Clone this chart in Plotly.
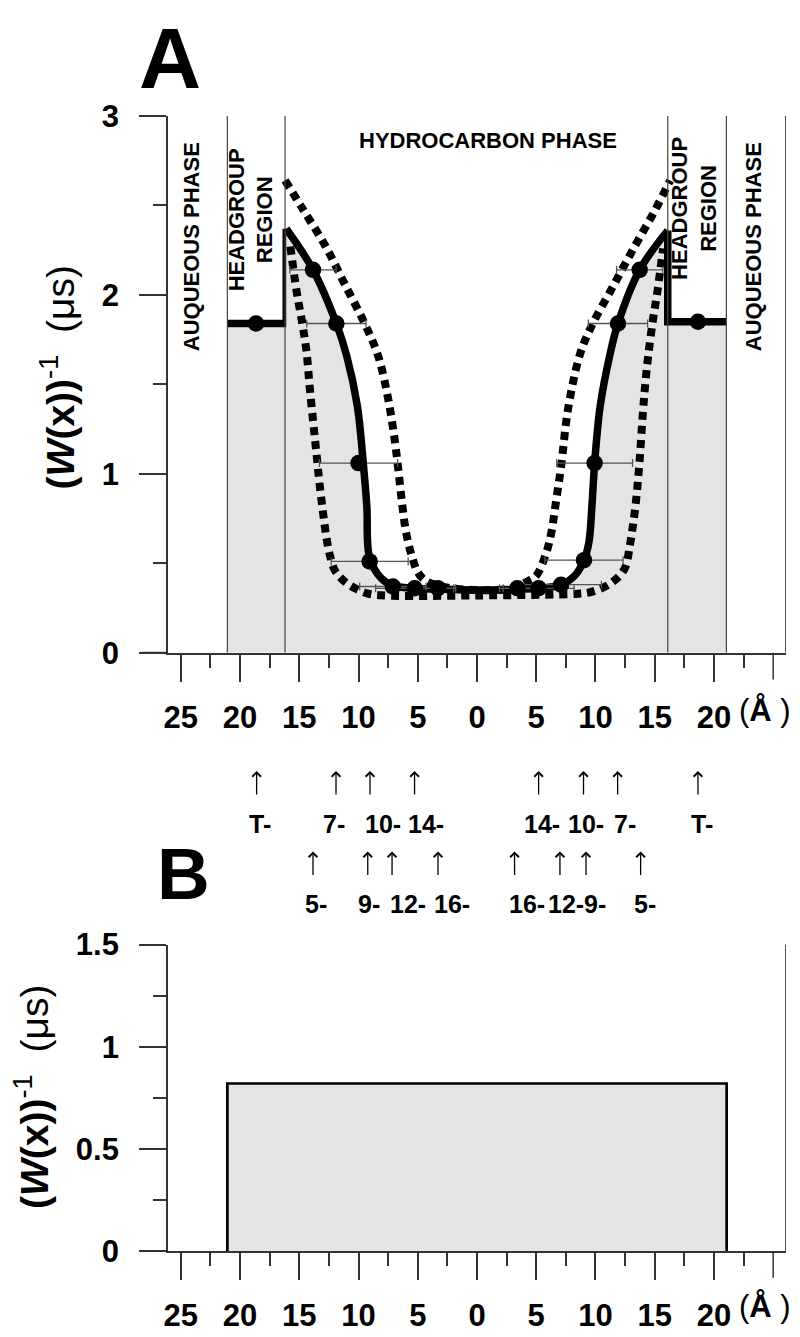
import plotly.graph_objects as go

# ---------------- data ----------------
# Panel A: solid profile, headgroup steps (x in Å, y = (W(x))^-1 in µs)
head_left_x = [-21.07, -16.1, -16.1]
head_left_y = [1.84, 1.84, 2.37]
head_right_x = [16.1, 16.1, 21.05]
head_right_y = [2.36, 1.85, 1.85]

curve_x = [-16.1, -13.84, -11.87, -11.0, -10.1, -9.6, -9.3, -9.06, -8.07, -7.1, -5.26, -3.3, 0.0,
           3.4, 5.2, 7.1, 8.24, 9.03, 9.45, 9.7, 9.93, 10.4, 11.2, 11.9, 13.73, 16.1]
curve_y = [2.37, 2.14, 1.84, 1.66, 1.38, 1.06, 0.82, 0.53, 0.415, 0.375, 0.36, 0.355, 0.35,
           0.355, 0.36, 0.38, 0.43, 0.517, 0.62, 0.82, 1.06, 1.38, 1.66, 1.84, 2.14, 2.36]

# measured points (spin-label positions) with horizontal error bars
dot_x = [-18.65, -13.84, -11.87, -10.0, -9.06, -7.1, -5.26, -3.3, 3.4, 5.2, 7.1, 9.03, 9.93, 11.9, 13.73, 18.65]
dot_y = [1.84, 2.14, 1.84, 1.06, 0.51, 0.37, 0.36, 0.36, 0.36, 0.36, 0.38, 0.517, 1.06, 1.84, 2.14, 1.85]
dot_err = [0, 1.95, 2.5, 3.3, 3.25, 2.8, 3.3, 1.5, 1.5, 3.0, 3.4, 3.3, 3.2, 2.5, 1.95, 0]

# dotted bounding profiles
inner_x = [-16.2, -14.8, -12.85, -11.16, -9.48, -8.35, -7.5, -6.95, -6.6, -6.3, -5.95, -5.5, -5.0, -4.4, -3.0, 0.0,
           3.0, 4.3, 5.0, 5.85, 6.27, 6.7, 7.1, 7.68, 8.7, 9.7, 11.5, 13.3, 15.0, 16.3]
inner_y = [2.64, 2.49, 2.28, 2.06, 1.84, 1.66, 1.42, 1.19, 1.0, 0.82, 0.66, 0.54, 0.45, 0.405, 0.37, 0.35,
           0.36, 0.40, 0.43, 0.56, 0.67, 0.86, 1.04, 1.36, 1.67, 1.83, 2.05, 2.27, 2.47, 2.64]
outer_x = [-15.75, -15.25, -14.8, -14.4, -14.1, -13.56, -13.3, -13.0, -12.7, -12.4, -12.0, -11.3, -10.3, -9.2, -7.9, 0.0,
           8.5, 9.65, 11.33, 12.46, 12.9, 13.16, 13.44, 13.73, 14.0, 14.2, 14.45, 14.85, 15.25, 15.7]
outer_y = [2.27, 2.03, 1.86, 1.69, 1.47, 1.12, 0.95, 0.785, 0.64, 0.54, 0.46, 0.405, 0.36, 0.33, 0.32, 0.32,
           0.33, 0.34, 0.39, 0.47, 0.6, 0.71, 0.86, 1.08, 1.34, 1.5, 1.66, 1.86, 2.03, 2.26]

# region boundaries (Å)
boundaries_x = [-21.07, -16.2, 16.1, 21.05]

# Panel B: uniform profile
b_edges_x = [-21.07, 21.07]
b_level = 0.82

# axis ticks
x_tickvals = [-25, -20, -15, -10, -5, 0, 5, 10, 15, 20]
x_ticktext = ["25", "20", "15", "10", "5", "0", "5", "10", "15", "20"]
x_unlabeled_major = [25]
x_minorvals = [-22.5, -17.5, -12.5, -7.5, -2.5, 2.5, 7.5, 12.5, 17.5, 22.5]
yA_tickvals = [0, 1, 2, 3]
yA_ticktext = ["0", "1", "2", "3"]
yA_minorvals = [0.5, 1.5, 2.5]
yB_tickvals = [0, 0.5, 1, 1.5]
yB_ticktext = ["0", "0.5", "1", "1.5"]
yB_minorvals = [0.25, 0.75, 1.25]

# spin-label position markers
row1_labels = ["T-", "7-", "10-", "14-", "14-", "10-", "7-", "T-"]
row1_arrow_x = [-18.6, -11.9, -9.03, -5.27, 5.2, 8.99, 11.87, 18.65]
row1_text_x = [-18.3, -12.1, -7.9, -4.3, 5.5, 9.2, 12.5, 19.0]
row2_labels = ["5-", "9-", "12-", "16-", "16-", "12-", "9-", "5-"]
row2_arrow_x = [-13.84, -9.22, -7.17, -3.29, 3.17, 7.0, 9.2, 13.81]
row2_text_x = [-13.6, -9.15, -5.8, -2.15, 4.2, 7.5, 10.0, 14.2]

# ---------------- layout helpers ----------------
W, H = 800, 1337
ML, MR, MT, MB = 160, 22, 108, 87
PW, PH = W - ML - MR, H - MT - MB


def px_x(p):
    return (p - ML) / PW


def px_y(p):
    return (H - MB - p) / PH


FONT = "Liberation Sans, Arial, sans-serif"
FILL = "#e4e4e4"
AX = "#333333"
XR = [-26.08, 26.08]
MAJ_LEN, MIN_LEN = 27, 13

fig = go.Figure()

# Panel A fills + solid profile
fig.add_trace(go.Scatter(x=head_left_x, y=head_left_y, mode="lines", fill="tozeroy", fillcolor=FILL,
                         line=dict(color="black", width=7.5), xaxis="x", yaxis="y", showlegend=False,
                         hoverinfo="skip"))
fig.add_trace(go.Scatter(x=curve_x, y=curve_y, mode="lines", fill="tozeroy", fillcolor=FILL,
                         line=dict(color="black", width=7.5, shape="spline", smoothing=1.0),
                         xaxis="x", yaxis="y", showlegend=False, hoverinfo="skip"))
fig.add_trace(go.Scatter(x=head_right_x, y=head_right_y, mode="lines", fill="tozeroy", fillcolor=FILL,
                         line=dict(color="black", width=7.5), xaxis="x", yaxis="y", showlegend=False,
                         hoverinfo="skip"))

# Dotted bounds
for xs, ys in [(inner_x, inner_y), (outer_x, outer_y)]:
    fig.add_trace(go.Scatter(x=xs, y=ys, mode="lines",
                             line=dict(color="black", width=8, dash="8px,6px", shape="spline", smoothing=1.0),
                             xaxis="x", yaxis="y", showlegend=False, hoverinfo="skip"))

# Points with error bars
fig.add_trace(go.Scatter(x=dot_x, y=dot_y, mode="markers",
                         marker=dict(color="black", size=16.5),
                         error_x=dict(type="data", array=dot_err, symmetric=True, thickness=1.3, width=4,
                                      color="#555555"),
                         xaxis="x", yaxis="y", showlegend=False, hoverinfo="skip"))

# Panel B rectangle
fig.add_trace(go.Scatter(x=[b_edges_x[0], b_edges_x[0], b_edges_x[1], b_edges_x[1]],
                         y=[0, b_level, b_level, 0], mode="lines", fill="toself", fillcolor=FILL,
                         line=dict(color="black", width=2.7), xaxis="x2", yaxis="y2", showlegend=False,
                         hoverinfo="skip"))

tickfont = dict(family=FONT, size=31, color="black", weight="bold")


def xaxis_def(anchor):
    return dict(domain=[0, 1], range=XR, anchor=anchor, showline=True, linecolor=AX, linewidth=1.7,
                ticks="outside", ticklen=MAJ_LEN, tickwidth=1.5, tickcolor=AX,
                tickmode="array", tickvals=x_tickvals, ticktext=x_ticktext,
                minor=dict(tickmode="array", tickvals=x_minorvals, ticklen=MIN_LEN, tickwidth=1.5,
                           tickcolor=AX, ticks="outside"),
                showgrid=False, zeroline=False, tickfont=tickfont, ticklabelstandoff=9, fixedrange=True)


def yaxis_def(domain, rng, tv, tt, mv, anchor):
    return dict(domain=domain, range=rng, anchor=anchor, showline=True, linecolor=AX, linewidth=1.7,
                ticks="outside", ticklen=MAJ_LEN, tickwidth=1.5, tickcolor=AX,
                tickmode="array", tickvals=tv, ticktext=tt,
                minor=dict(tickmode="array", tickvals=mv, ticklen=MIN_LEN, tickwidth=1.5,
                           tickcolor=AX, ticks="outside"),
                showgrid=False, zeroline=False, tickfont=tickfont, ticklabelstandoff=14, fixedrange=True)


domA = [px_y(648), 1.0]
domB = [0.0, px_y(941.7)]

fig.update_layout(
    width=W, height=H,
    margin=dict(l=ML, r=MR, t=MT, b=MB),
    paper_bgcolor="white", plot_bgcolor="white",
    font=dict(family=FONT, color="black"),
    xaxis=xaxis_def("y"),
    xaxis2=xaxis_def("y2"),
    yaxis=yaxis_def(domA, [0, 3], yA_tickvals, yA_ticktext, yA_minorvals, "x"),
    yaxis2=yaxis_def(domB, [0, 1.5], yB_tickvals, yB_ticktext, yB_minorvals, "x2"),
    showlegend=False,
)

shapes = []
# region boundary lines panel A
for bx in boundaries_x:
    shapes.append(dict(type="line", xref="x", yref="y", x0=bx, x1=bx, y0=0, y1=3,
                       line=dict(color="#444444", width=1.2)))
# right borders
shapes.append(dict(type="line", xref="x", yref="y", x0=XR[1], x1=XR[1], y0=0, y1=3,
                   line=dict(color=AX, width=1.7)))
shapes.append(dict(type="line", xref="x2", yref="y2", x0=XR[1], x1=XR[1], y0=0, y1=1.5,
                   line=dict(color=AX, width=1.7)))
# x-axis line extension to the left of the y axis, and unlabeled major ticks
for xr, yr, axis_py in [("x", "y", 648), ("x2", "y2", 1250)]:
    shapes.append(dict(type="line", xref="paper", yref=yr, x0=px_x(134), x1=0, y0=0, y1=0,
                       line=dict(color=AX, width=1.7)))
    for tv in x_unlabeled_major:
        shapes.append(dict(type="line", xref=xr, yref="paper", x0=tv, x1=tv,
                           y0=px_y(axis_py), y1=px_y(axis_py + MAJ_LEN),
                           line=dict(color=AX, width=1.5)))
fig.update_layout(shapes=shapes)

ann = []
# panel letters
ann.append(dict(text="<b>A</b>", x=px_x(162), y=1.0 + MT / PH, xref="paper", yref="paper", showarrow=False,
                font=dict(family=FONT, size=86, color="black"), xanchor="center", yanchor="top",
                borderpad=0))
ann.append(dict(text="<b>B</b>", x=px_x(175), y=px_y(870), xref="paper", yref="paper", showarrow=False,
                font=dict(family=FONT, size=73, color="black"), xanchor="center", yanchor="middle"))
# y axis titles
ytitle = "<b>(<i>W</i>(x))</b><sup>-1</sup>  (μs)"
ann.append(dict(text=ytitle, x=px_x(49), y=px_y(371), xref="paper", yref="paper", showarrow=False,
                textangle=-90, font=dict(family=FONT, size=39, color="black"), xanchor="center", yanchor="middle"))
ann.append(dict(text=ytitle, x=px_x(24), y=px_y(1095), xref="paper", yref="paper", showarrow=False,
                textangle=-90, font=dict(family=FONT, size=39, color="black"), xanchor="center", yanchor="middle"))
# unit labels
for py in (706, 1306):
    ann.append(dict(text="(<b>Å</b> )", x=px_x(757), y=px_y(py), xref="paper", yref="paper", showarrow=False,
                    font=dict(family=FONT, size=31, color="black"), xanchor="center", yanchor="middle"))
# region labels
rf = dict(family=FONT, size=22, color="black")
ann.append(dict(text="<b>AUQUEOUS PHASE</b>", x=px_x(183), y=px_y(240), xref="paper", yref="paper",
                showarrow=False, textangle=-90, font=rf, xanchor="center", yanchor="middle"))
ann.append(dict(text="<b>AUQUEOUS PHASE</b>", x=px_x(745), y=px_y(240), xref="paper", yref="paper",
                showarrow=False, textangle=-90, font=rf, xanchor="center", yanchor="middle"))
ann.append(dict(text="<b>HEADGROUP<br>REGION</b>", x=px_x(243), y=px_y(213), xref="paper", yref="paper",
                showarrow=False, textangle=-90, font=rf, xanchor="center", yanchor="middle"))
ann.append(dict(text="<b>HEADGROUP<br>REGION</b>", x=px_x(686), y=px_y(201.5), xref="paper", yref="paper",
                showarrow=False, textangle=-90, font=rf, xanchor="center", yanchor="middle"))
ann.append(dict(text="<b>HYDROCARBON PHASE</b>", x=px_x(480), y=px_y(133), xref="paper", yref="paper",
                showarrow=False, font=rf, xanchor="center", yanchor="middle"))

# arrows and spin-label names
lf = dict(family=FONT, size=25, color="black")
for ax_list, tx_list, labels, head_y, text_y in [
    (row1_arrow_x, row1_text_x, row1_labels, 767, 820),
    (row2_arrow_x, row2_text_x, row2_labels, 848, 901),
]:
    for axv in ax_list:
        ann.append(dict(text="", x=axv, y=px_y(head_y), xref="x", yref="paper", showarrow=True,
                        ax=0, ay=25, arrowhead=4, arrowsize=1.3, arrowwidth=1.3, arrowcolor="black"))
    for tx, lab in zip(tx_list, labels):
        ann.append(dict(text="<b>" + lab + "</b>", x=tx, y=px_y(text_y), xref="x", yref="paper",
                        showarrow=False, font=lf, xanchor="center", yanchor="middle"))

fig.update_layout(annotations=ann)

fig.write_html("out.html")
